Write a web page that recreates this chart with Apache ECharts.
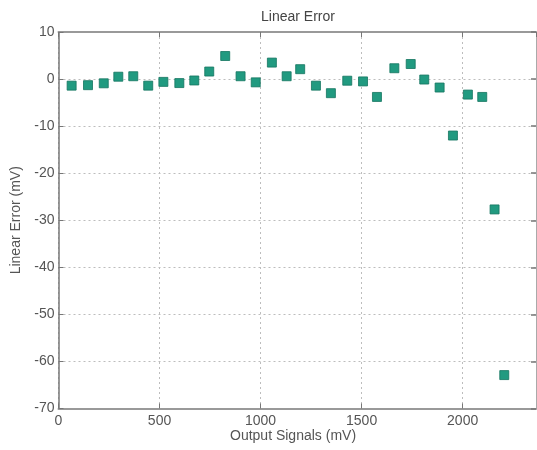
<!DOCTYPE html>
<html>
<head>
<meta charset="utf-8">
<script src="https://cdn.jsdelivr.net/npm/echarts@6/dist/echarts.min.js"></script>
<style>html,body{margin:0;padding:0;background:#fff}#c{width:537px;height:450px}</style>
</head>
<body>
<div id="c"></div>
<script>
const outputSignals = [65,146,224,296,370,444,519,598,672,746,825,901,976,1056,1129,1196,1274,1348,1429,1507,1576,1662,1743,1810,1886,1952,2026,2097,2158,2206];
const linearError = [-1.4,-1.3,-0.9,0.5,0.6,-1.4,-0.6,-0.85,-0.3,1.6,4.9,0.6,-0.7,3.5,0.6,2.1,-1.4,-3.0,-0.35,-0.5,-3.8,2.3,3.2,-0.1,-1.8,-12.0,-3.3,-3.8,-27.7,-62.9];
const xTicks = [0,500,1000,1500,2000];
const yTicks = [10,0,-10,-20,-30,-40,-50,-60,-70];

const font = 'Liberation Sans, Arial, sans-serif';
const txt = '#555';
const chart = echarts.init(document.getElementById('c'), null, {renderer:'canvas'});
const points = outputSignals.map((x,i)=>[x, linearError[i]]);
const gridLine = {show:true, lineStyle:{color:'#bdbdbd', type:[2,3], width:1}};
chart.setOption({
  animation:false,
  backgroundColor:'#fff',
  title:{text:'Linear Error', left:293, top:5, textAlign:'center',
    textStyle:{fontFamily:font, fontSize:14, fontWeight:'normal', color:'#444'}},
  graphic:[{type:'text', left:230, top:429, style:{text:'Output Signals (mV)', font:'14px '+font, fill:'#555'}}],
  grid:{left:58.5, right:1, top:32, bottom:41.5, containLabel:false},
  xAxis:[{type:'value', min:0, max:2363, interval:500, position:'bottom',
    axisLine:{show:true, onZero:false, lineStyle:{color:'#999', width:2}},
    axisTick:{show:true, inside:true, length:5, lineStyle:{color:'#777'}},
    axisLabel:{color:txt, fontFamily:font, fontSize:14, margin:6, showMaxLabel:false,
      formatter:v=> xTicks.includes(v)? String(v):''},
    splitLine:gridLine},
   {type:'value', min:0, max:2363, interval:500, position:'top',
    axisLine:{show:true, onZero:false, lineStyle:{color:'#999', width:2}},
    axisTick:{show:true, inside:true, length:5, lineStyle:{color:'#777'}},
    axisLabel:{show:false}, splitLine:{show:false}}],
  yAxis:[{type:'value', min:-70, max:10, interval:10, position:'left',
    name:'Linear Error (mV)', nameLocation:'middle', nameGap:34, nameRotate:90,
    nameTextStyle:{color:txt, fontFamily:font, fontSize:14},
    axisLine:{show:true, onZero:false, lineStyle:{color:'#777', width:1.5}},
    axisTick:{show:true, inside:true, length:5, lineStyle:{color:'#777'}},
    axisLabel:{color:txt, fontFamily:font, fontSize:14, margin:4,
      formatter:v=> yTicks.includes(v)? String(v):''},
    splitLine:gridLine},
   {type:'value', min:-70, max:10, interval:10, position:'right',
    axisLine:{show:true, onZero:false, lineStyle:{color:'#aaa', width:1}},
    axisTick:{show:true, inside:true, length:5, lineStyle:{color:'#777', width:1.5}},
    axisLabel:{show:false}, splitLine:{show:false}}],
  series:[{type:'scatter', data:points, symbol:'rect', symbolSize:9,
    itemStyle:{color:'#219a80', borderColor:'#147560', borderWidth:0.8, opacity:1}}]
});
</script>
</body>
</html>
